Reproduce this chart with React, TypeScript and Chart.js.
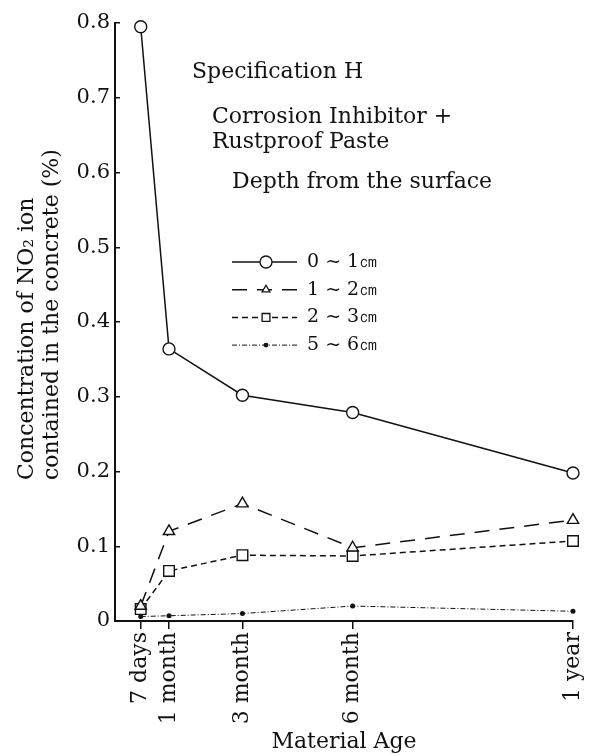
import React, { useEffect, useRef } from 'react';
import { Chart, registerables } from 'chart.js';
import { drawPoint } from 'chart.js/helpers';

Chart.register(...registerables);

// ---- data ----
const ageMonths = [0.23, 1, 3, 6, 12];
const ageTickLabels = ['7 days', '1 month', '3 month', '6 month', '1 year'];
const yTickValues = [0, 0.1, 0.2, 0.3, 0.4, 0.5, 0.6, 0.7, 0.8];
const seriesNames = ['0 ~ 1㎝', '1 ~ 2㎝', '2 ~ 3㎝', '5 ~ 6㎝'];
const depth0to1 = [0.795, 0.364, 0.302, 0.279, 0.198];
const depth1to2 = [0.02, 0.12, 0.157, 0.098, 0.135];
const depth2to3 = [0.016, 0.067, 0.088, 0.087, 0.107];
const depth5to6 = [0.006, 0.007, 0.01, 0.02, 0.013];
const yTitleLines = ['Concentration of NO₂ ion', 'contained in the concrete (%)'];
const xTitleText = 'Material Age';
const noteLines = ['Specification H', 'Corrosion Inhibitor +', 'Rustproof Paste', 'Depth from the surface'];

const FONT = '"DejaVu Serif", serif';
const INK = '#111';

const seriesValues = [depth0to1, depth1to2, depth2to3, depth5to6];
const seriesStyles = [
  { dash: [], style: 'circle', r: 6, lr: 6, w: 1.5, fill: '#fff' },
  { dash: [15, 10], style: 'triangle', r: 6.5, lr: 4.5, w: 1.5, fill: '#fff' },
  { dash: [6, 4], style: 'rect', r: 7.5, lr: 5.5, w: 1.5, fill: '#fff' },
  { dash: [5, 2, 1, 2], style: 'circle', r: 1.8, lr: 1.8, w: 1, fill: INK },
];

const overlayPlugin = {
  id: 'overlay',
  afterDraw(chart: any) {
    const ctx = chart.ctx;
    ctx.save();
    ctx.fillStyle = INK;
    ctx.textBaseline = 'alphabetic';
    ctx.textAlign = 'left';
    // notes
    ctx.font = `22px ${FONT}`;
    ctx.fillText(noteLines[0], 192, 78);
    ctx.fillText(noteLines[1], 212, 123);
    ctx.fillText(noteLines[2], 212, 148);
    ctx.fillText(noteLines[3], 232, 188);
    // y title
    ctx.font = `22px ${FONT}`;
    [33, 58].forEach((bx, i) => {
      ctx.save();
      ctx.translate(bx, 480);
      ctx.rotate(-Math.PI / 2);
      ctx.fillText(yTitleLines[i], 0, 0);
      ctx.restore();
    });
    // legend
    chart.data.datasets.forEach((ds: any, i: number) => {
      const st = seriesStyles[i];
      const y = 262 + i * 27.7;
      ctx.save();
      ctx.strokeStyle = INK;
      ctx.lineWidth = st.w;
      ctx.setLineDash(st.dash);
      ctx.beginPath();
      ctx.moveTo(232, y);
      ctx.lineTo(297, y);
      ctx.stroke();
      ctx.setLineDash([]);
      ctx.fillStyle = st.fill;
      ctx.lineWidth = 1.3;
      drawPoint(ctx, { pointStyle: st.style, radius: st.lr, borderWidth: 1.3, rotation: 0 } as any, 266, y);
      ctx.restore();
      ctx.fillStyle = INK;
      ctx.font = `19px ${FONT}`;
      ctx.textBaseline = 'middle';
      ctx.fillText(ds.label, 307, y);
    });
    ctx.restore();
  },
};

export default function App() {
  const ref = useRef<HTMLCanvasElement | null>(null);
  useEffect(() => {
    if (!ref.current) return;
    const chart = new Chart(ref.current, {
      type: 'line',
      data: {
        datasets: seriesValues.map((vals, i) => ({
          label: seriesNames[i],
          data: vals.map((v, j) => ({ x: ageMonths[j], y: v })),
          borderColor: INK,
          borderWidth: seriesStyles[i].w,
          borderDash: seriesStyles[i].dash,
          pointStyle: seriesStyles[i].style,
          pointRadius: seriesStyles[i].r,
          pointBorderWidth: 1.4,
          pointBorderColor: INK,
          pointBackgroundColor: seriesStyles[i].fill,
          tension: 0,
          clip: false as any,
        })),
      },
      options: {
        animation: false,
        responsive: false,
        layout: { padding: { top: 23, right: 16, left: 0, bottom: 0 } },
        plugins: { legend: { display: false }, tooltip: { enabled: false } },
        scales: {
          x: {
            type: 'linear',
            min: -0.47,
            max: 12,
            afterFit: (s: any) => { s.height = 135; s.paddingRight = 0; s.paddingLeft = 0; },
            afterBuildTicks: (s: any) => { s.ticks = ageMonths.map((v) => ({ value: v })); },
            ticks: {
              autoSkip: false,
              minRotation: 90,
              maxRotation: 90,
              padding: 3,
              color: INK,
              font: { family: FONT, size: 22 },
              callback: (v: any) => ageTickLabels[ageMonths.indexOf(Number(v))] ?? '',
            },
            grid: { display: true, drawOnChartArea: false, drawTicks: true, tickLength: 8, color: INK, lineWidth: 1.5 },
            border: { display: true, color: INK, width: 2 },
            title: {
              display: true,
              text: xTitleText,
              color: INK,
              font: { family: FONT, size: 22 },
              padding: { top: 0, bottom: 1 },
            },
          },
          y: {
            type: 'linear',
            min: 0,
            max: 0.8,
            afterFit: (s: any) => { s.width = 115; s.paddingTop = 0; s.paddingBottom = 0; },
            afterBuildTicks: (s: any) => { s.ticks = yTickValues.map((v) => ({ value: v })); },
            ticks: {
              padding: 10,
              color: INK,
              font: { family: FONT, size: 21 },
              callback: (v: any) => (Number(v) === 0 ? '0' : Number(v).toFixed(1)),
            },
            grid: { display: true, drawOnChartArea: false, drawTicks: true, tickLength: -5, color: INK, lineWidth: 1.5 },
            border: { display: true, color: INK, width: 2 },
          },
        },
      },
      plugins: [overlayPlugin],
    } as any);
    return () => chart.destroy();
  }, []);
  return (
    <div style={{ position: 'absolute', left: 0, top: 0, width: 589, height: 756, background: '#fff' }}>
      <canvas ref={ref} width={589} height={756} style={{ display: 'block' }} />
    </div>
  );
}
